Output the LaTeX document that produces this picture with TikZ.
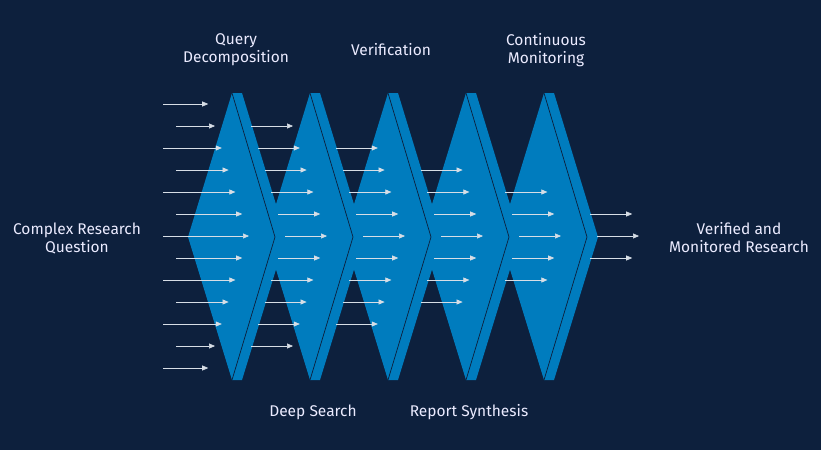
\documentclass[tikz,border=0pt]{standalone}
\usepackage{fontspec}
\setmainfont{Fira Sans}
\usetikzlibrary{arrows.meta}
\definecolor{bg}{RGB}{13,32,61}
\definecolor{blu}{RGB}{0,124,190}
\definecolor{arr}{RGB}{215,222,230}
\begin{document}
\begin{tikzpicture}[x=1pt,y=-1pt,
  lbl/.style={text=white!92!blue,font=\fontsize{15.5}{18}\selectfont,align=center},
  ar/.style={arr,line width=0.6pt,-{Triangle[length=6pt,width=5pt]}}]
\fill[bg] (0,0) rectangle (821,450);
\useasboundingbox (0,0) rectangle (821,450);
\foreach \k in {4,3,2,1,0}{
  \pgfmathsetmacro\dx{78*\k}
  \begin{scope}[xshift=\dx]
  \fill[blu] (232,93) -- (242,93) -- (286,237) -- (242,380) -- (232,380) -- (275,237) -- cycle;
  \fill[blu] (232,93) -- (275,237) -- (232,380) -- (188,237) -- cycle;
  \draw[bg,line width=0.7pt] (232,93) -- (275,237) -- (232,380);
  \end{scope}
}
\foreach \k/\n in {0/6,1/5,2/4,3/3,4/2,5/1}{
  \foreach \i in {-\n,...,\n}{
    \pgfmathsetmacro\ey{236+22*\i}
    \pgfmathsetmacro\ex{249+78*\k-6.8*abs(\i)}
    \pgfmathsetmacro\sx{\k==0 ? (mod(abs(\i),2)==0 ? 163 : 176) : \ex-42}
    \draw[ar] (\sx,\ey) -- (\ex,\ey);
  }
}
\node[lbl] (q) at (236,50) {Query\\Decomposition};
\node[lbl] (v) at (391,50) {Verification};
\node[lbl] (c) at (546,50) {Continuous\\Monitoring};
\node[lbl] (d) at (313,412) {Deep Search};
\node[lbl] (r) at (469,412) {Report Synthesis};
\node[lbl] (in) at (77,238) {Complex Research\\Question};
\node[lbl] (out) at (739,238) {Verified and\\Monitored Research};
\end{tikzpicture}
\end{document}
